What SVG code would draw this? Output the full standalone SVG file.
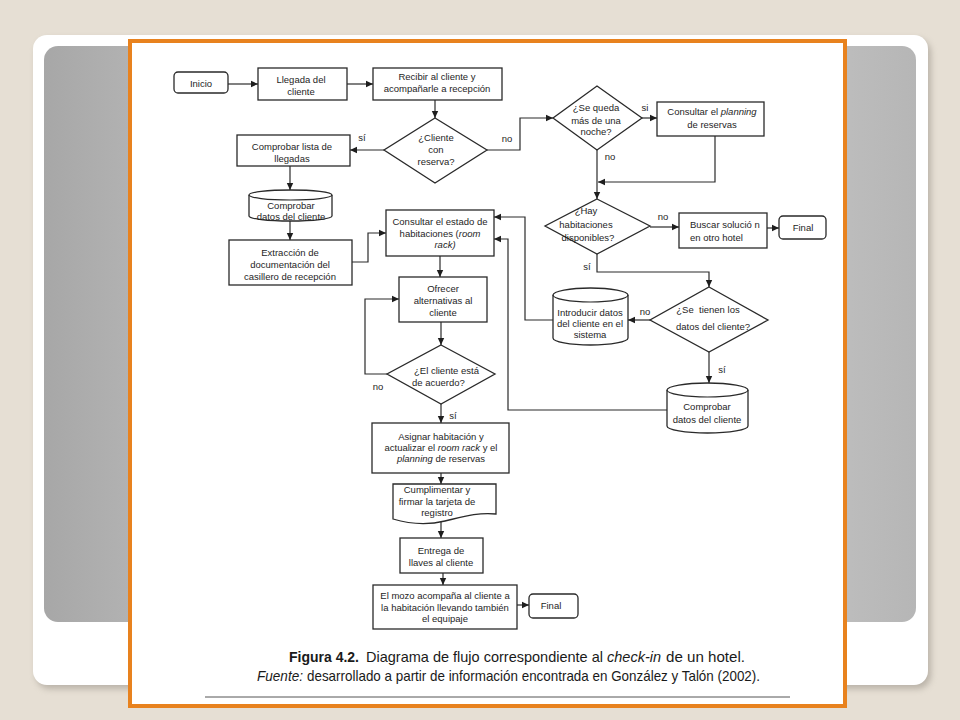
<svg xmlns="http://www.w3.org/2000/svg" width="960" height="720" viewBox="0 0 960 720">
<defs>
<style>
.b{fill:#fff;stroke:#2a2a2a;stroke-width:1.3}
.t{font-family:"Liberation Sans",Arial,sans-serif;font-size:9.5px;fill:#1e1e1e;text-anchor:middle}
.s{text-anchor:start}
.i{font-style:italic}
.c{fill:none;stroke:#2a2a2a;stroke-width:1.2}
.cap{font-family:"Liberation Sans",Arial,sans-serif;font-size:15px;fill:#1a1a1a}
</style>
<marker id="a" markerWidth="8" markerHeight="8" refX="7" refY="4" orient="auto" markerUnits="userSpaceOnUse"><path d="M0,0.8 L7,4 L0,7.2 z" fill="#1e1e1e"/></marker>
<linearGradient id="g" x1="0" y1="0" x2="1" y2="0"><stop offset="0" stop-color="#a7a7a7"/><stop offset="0.5" stop-color="#dedede"/><stop offset="1" stop-color="#b6b6b6"/></linearGradient>
<filter id="sh" x="-5%" y="-5%" width="110%" height="110%"><feGaussianBlur stdDeviation="3"/></filter>
</defs>
<rect width="960" height="720" fill="#e6dfd4"/>
<rect x="36" y="39" width="895" height="650" rx="14" fill="#9d968c" opacity="0.6" filter="url(#sh)"/>
<rect x="33" y="35" width="895" height="650" rx="14" fill="#ffffff"/>
<rect x="44" y="46" width="872" height="576" rx="14" fill="url(#g)"/>
<rect x="130" y="41" width="715" height="665" fill="#ffffff" stroke="#e8821e" stroke-width="4"/>

<g id="connectors">
<path class="c" d="M228,84 H258" marker-end="url(#a)"/>
<path class="c" d="M347,84 H373" marker-end="url(#a)"/>
<path class="c" d="M435,100 V118" marker-end="url(#a)"/>
<path class="c" d="M384,150 H350" marker-end="url(#a)"/>
<path class="c" d="M487,150 H520 V118 H553" marker-end="url(#a)"/>
<path class="c" d="M290,166 V190" marker-end="url(#a)"/>
<path class="c" d="M290,221 V240" marker-end="url(#a)"/>
<path class="c" d="M352,262 H368 V233 H386" marker-end="url(#a)"/>
<path class="c" d="M440,256 V277" marker-end="url(#a)"/>
<path class="c" d="M441,322 V345" marker-end="url(#a)"/>
<path class="c" d="M387,374 H365 V299 H399" marker-end="url(#a)"/>
<path class="c" d="M441,404 V423" marker-end="url(#a)"/>
<path class="c" d="M441,473 V484" marker-end="url(#a)"/>
<path class="c" d="M441,522 V538" marker-end="url(#a)"/>
<path class="c" d="M443,573 V585" marker-end="url(#a)"/>
<path class="c" d="M517,605 H529" marker-end="url(#a)"/>
<path class="c" d="M642,118 H657" marker-end="url(#a)"/>
<path class="c" d="M597,150 V199" marker-end="url(#a)"/>
<path class="c" d="M715,136 V182 H598" marker-end="url(#a)"/>
<path class="c" d="M650,227 H679" marker-end="url(#a)"/>
<path class="c" d="M767,228 H779" marker-end="url(#a)"/>
<path class="c" d="M597,254 V272 H709 V287" marker-end="url(#a)"/>
<path class="c" d="M650,320 H628" marker-end="url(#a)"/>
<path class="c" d="M553,320 H525 V217 H494" marker-end="url(#a)"/>
<path class="c" d="M709,352 V383" marker-end="url(#a)"/>
<path class="c" d="M667,410 H508 V239 H494" marker-end="url(#a)"/>
<text class="t" x="362" y="141">sí</text>
<text class="t" x="507" y="142">no</text>
<text class="t" x="378" y="390">no</text>
<text class="t" x="453" y="419">sí</text>
<text class="t" x="645" y="111">si</text>
<text class="t" x="610" y="160">no</text>
<text class="t" x="663" y="220">no</text>
<text class="t" x="587" y="270">sí</text>
<text class="t" x="645" y="315">no</text>
<text class="t" x="722" y="373">sí</text>
</g>

<g id="inicio"><rect class="b" x="174" y="72" width="54" height="21" rx="4"/><text class="t" x="201" y="87">Inicio</text></g>
<g id="llegada"><rect class="b" x="258" y="68" width="89" height="32"/><text class="t" x="301" y="83">Llegada del</text><text class="t" x="301" y="94.5">cliente</text></g>
<g id="recibir"><rect class="b" x="373" y="68" width="129" height="32"/><text class="t" x="437" y="79.5">Recibir al cliente y</text><text class="t" x="437" y="92">acompañarle a recepción</text></g>
<g id="d_reserva"><polygon class="b" points="435,118 487,150 435,183 384,150"/><text class="t" x="436" y="141">¿Cliente</text><text class="t" x="436" y="153">con</text><text class="t" x="436" y="165">reserva?</text></g>
<g id="lista"><rect class="b" x="237" y="135" width="113" height="31"/><text class="t" x="292" y="150">Comprobar lista de</text><text class="t" x="292" y="161.5">llegadas</text></g>
<g id="cyl_datos1"><path class="b" d="M249,195 A41.5,5 0 0 1 332,195 V216 A41.5,5 0 0 1 249,216 Z"/><path class="c" d="M249,195 A41.5,5 0 0 0 332,195"/><text class="t" x="291" y="209">Comprobar</text><text class="t" x="291" y="220">datos del cliente</text></g>
<g id="extraccion"><rect class="b" x="229" y="240" width="123" height="45"/><text class="t" x="290" y="255.5">Extracción de</text><text class="t" x="290" y="267.5">documentación del</text><text class="t" x="290" y="279.5">casillero de recepción</text></g>
<g id="consultar_estado"><rect class="b" x="386" y="210" width="108" height="46"/><text class="t" x="440" y="225">Consultar el estado de</text><text class="t" x="440" y="236.5">habitaciones (<tspan class="i">room</tspan></text><text class="t i" x="445" y="248">rack)</text></g>
<g id="ofrecer"><rect class="b" x="399" y="277" width="88" height="45"/><text class="t" x="443" y="291.5">Ofrecer</text><text class="t" x="443" y="303.5">alternativas al</text><text class="t" x="443" y="315.5">cliente</text></g>
<g id="d_acuerdo"><polygon class="b" points="441,345 495,374 441,404 387,374"/><text class="t s" x="414" y="374">¿El cliente está</text><text class="t s" x="412" y="385.5">de acuerdo?</text></g>
<g id="asignar"><rect class="b" x="372" y="423" width="137" height="50"/><text class="t" x="441" y="439.5">Asignar habitación y</text><text class="t" x="441" y="450.5">actualizar el <tspan class="i">room rack</tspan> y el</text><text class="t" x="441" y="461.5"><tspan class="i">planning</tspan> de reservas</text></g>
<g id="cumplimentar"><path class="b" d="M393,484 H496 V514 C478,512 462,517 445,521 C428,525 410,524 393,519 Z"/><text class="t" x="437" y="493">Cumplimentar y</text><text class="t" x="437" y="505">firmar la tarjeta de</text><text class="t" x="437" y="516">registro</text></g>
<g id="entrega"><rect class="b" x="400" y="538" width="83" height="35"/><text class="t" x="441" y="554">Entrega de</text><text class="t" x="441" y="565.5">llaves al cliente</text></g>
<g id="mozo"><rect class="b" x="373" y="585" width="144" height="44"/><text class="t" x="445" y="599">El mozo acompaña al cliente a</text><text class="t" x="445" y="610.5">la habitación llevando también</text><text class="t" x="445" y="622">el equipaje</text></g>
<g id="final2"><rect class="b" x="529" y="594" width="49" height="24" rx="4"/><text class="t" x="551" y="609">Final</text></g>
<g id="d_noche"><polygon class="b" points="597,86 642,118 597,150 553,118"/><text class="t" x="596" y="111">¿Se queda</text><text class="t" x="596" y="124">más de una</text><text class="t" x="596" y="135">noche?</text></g>
<g id="planning"><rect class="b" x="657" y="102" width="107" height="34"/><text class="t" x="712" y="115">Consultar el <tspan class="i">planning</tspan></text><text class="t" x="712" y="128">de reservas</text></g>
<g id="d_hay"><polygon class="b" points="597,199 650,226 597,254 545,226"/><text class="t" x="586" y="214">¿Hay</text><text class="t" x="586" y="228">habitaciones</text><text class="t" x="588" y="241">disponibles?</text></g>
<g id="buscar"><rect class="b" x="679" y="213" width="88" height="35"/><text class="t s" x="690" y="228">Buscar solució n</text><text class="t s" x="690" y="241">en otro hotel</text></g>
<g id="final1"><rect class="b" x="779" y="216" width="47" height="23" rx="4"/><text class="t" x="803" y="231">Final</text></g>
<g id="d_datos"><polygon class="b" points="709,287 768,320 709,352 650,320"/><text class="t" x="708" y="313" xml:space="preserve">¿Se  tienen los</text><text class="t" x="713" y="330">datos del cliente?</text></g>
<g id="cyl_intro"><path class="b" d="M553,295 A37.5,7 0 0 1 628,295 V338 A37.5,7 0 0 1 553,338 Z"/><path class="c" d="M553,295 A37.5,7 0 0 0 628,295"/><text class="t" x="590" y="316">Introducir datos</text><text class="t" x="590" y="327">del cliente en el</text><text class="t" x="590" y="338">sistema</text></g>
<g id="cyl_datos2"><path class="b" d="M667,390 A40.5,7 0 0 1 748,390 V426 A40.5,7 0 0 1 667,426 Z"/><path class="c" d="M667,390 A40.5,7 0 0 0 748,390"/><text class="t" x="707" y="410">Comprobar</text><text class="t" x="707" y="423">datos del cliente</text></g>

<g id="caption">
<text class="cap" x="289" y="662" font-weight="bold" textLength="70" lengthAdjust="spacingAndGlyphs">Figura 4.2.</text>
<text class="cap" x="366" y="662" textLength="237" lengthAdjust="spacingAndGlyphs">Diagrama de flujo correspondiente al</text>
<text class="cap i" x="607" y="662" textLength="54" lengthAdjust="spacingAndGlyphs">check-in</text>
<text class="cap" x="666" y="662" textLength="79" lengthAdjust="spacingAndGlyphs">de un hotel.</text>
<text class="cap i" x="257" y="681" textLength="46" lengthAdjust="spacingAndGlyphs">Fuente:</text>
<text class="cap" x="307" y="681" textLength="453" lengthAdjust="spacingAndGlyphs">desarrollado a partir de información encontrada en González y Talón (2002).</text>
<line x1="205" y1="697" x2="790" y2="697" stroke="#555" stroke-width="1"/>
</g>
</svg>
